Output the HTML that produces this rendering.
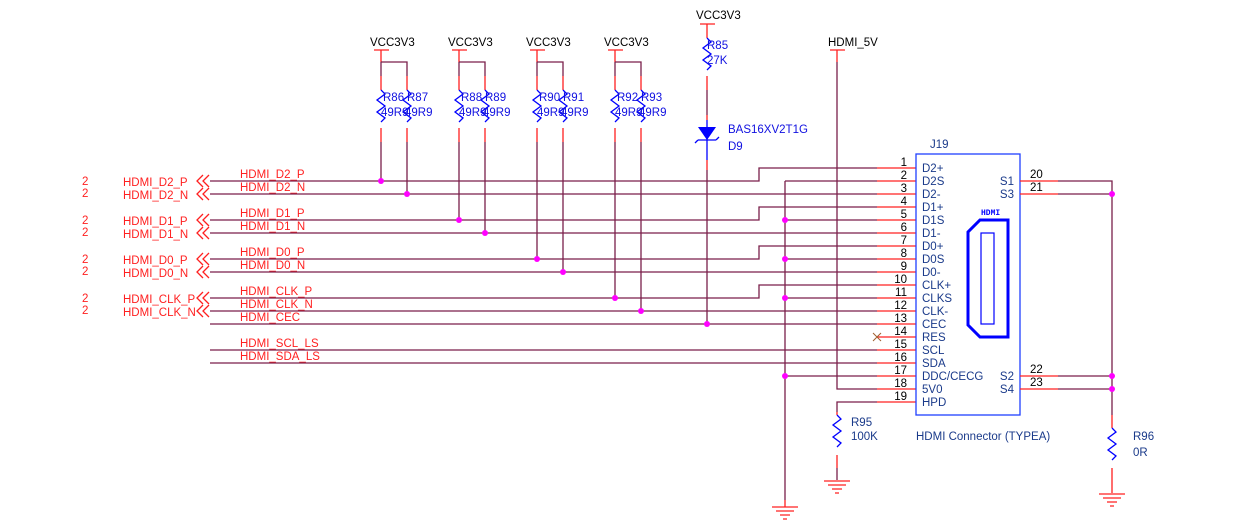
<!DOCTYPE html>
<html><head><meta charset="utf-8"><style>
html,body{margin:0;padding:0;background:#fff;}
svg{display:block;}
text{font-family:"Liberation Sans",sans-serif;font-size:11.5px;}
.w{stroke:#7a1f4a;stroke-width:1.3;fill:none;}
.r{stroke:#ff2020;stroke-width:1.3;fill:none;}
.b{stroke:#0000ff;stroke-width:1.3;fill:none;}
.rt{fill:#ff2020;}
.bt{fill:#1a3a8a;}
.kt{fill:#000;}
.bl{fill:#1010e0;}
.dot{fill:#ff00ff;}
</style></head><body>
<svg width="1236" height="531" viewBox="0 0 1236 531" xmlns="http://www.w3.org/2000/svg">
<defs>
<g id="res"><path class="r" d="M0,0 V14"/><path class="b" d="M0,14 l4,4 l-8,6 l8,6 l-8,6 l8,6 l-4,4 l0,0"/><path class="r" d="M0,52 V66"/></g>
<g id="gnd"><path class="r" d="M-13,0 H13 M-9,4 H9 M-5,8 H5 M-2,12 H2"/></g>
<g id="chev"><path class="r" d="M6,-6 L0,0 L6,6 M12,-6 L6,0 L12,6" transform="translate(-1,0)"/></g>
</defs>

<g>
<text x="370" y="46" class="kt">VCC3V3</text>
<text x="448" y="46" class="kt">VCC3V3</text>
<text x="526" y="46" class="kt">VCC3V3</text>
<text x="604" y="46" class="kt">VCC3V3</text>
</g>
<g>
<path class="r" d="M374,50 H389 M381,50 V62"/>
<path class="w" d="M381,62 H407 V76 M381,62 V76"/>
<use href="#res" x="381" y="76"/><use href="#res" x="407" y="76"/>
<path class="w" d="M381,142 V181 M407,142 V194"/>
<text x="383" y="101" class="bl">R86</text><text x="407" y="101" class="bl">R87</text>
<text x="381" y="116" class="bl">49R9</text><text x="405" y="116" class="bl">49R9</text>

<path class="r" d="M452,50 H467 M459,50 V62"/>
<path class="w" d="M459,62 H485 V76 M459,62 V76"/>
<use href="#res" x="459" y="76"/><use href="#res" x="485" y="76"/>
<path class="w" d="M459,142 V220 M485,142 V233"/>
<text x="461" y="101" class="bl">R88</text><text x="485" y="101" class="bl">R89</text>
<text x="459" y="116" class="bl">49R9</text><text x="483" y="116" class="bl">49R9</text>

<path class="r" d="M530,50 H545 M537,50 V62"/>
<path class="w" d="M537,62 H563 V76 M537,62 V76"/>
<use href="#res" x="537" y="76"/><use href="#res" x="563" y="76"/>
<path class="w" d="M537,142 V259 M563,142 V272"/>
<text x="539" y="101" class="bl">R90</text><text x="563" y="101" class="bl">R91</text>
<text x="537" y="116" class="bl">49R9</text><text x="561" y="116" class="bl">49R9</text>

<path class="r" d="M608,50 H623 M615,50 V62"/>
<path class="w" d="M615,62 H641 V76 M615,62 V76"/>
<use href="#res" x="615" y="76"/><use href="#res" x="641" y="76"/>
<path class="w" d="M615,142 V298 M641,142 V311"/>
<text x="617" y="101" class="bl">R92</text><text x="641" y="101" class="bl">R93</text>
<text x="615" y="116" class="bl">49R9</text><text x="639" y="116" class="bl">49R9</text>
</g>

<text x="696" y="19" class="kt">VCC3V3</text>
<path class="r" d="M700,24 H715 M707,24 V38"/>
<path class="b" d="M707,38 l4,4 l-8,6 l8,6 l-8,6 l8,6 l-4,4"/>
<path class="r" d="M707,76 V90"/>
<path class="w" d="M707,90 V115"/>
<path class="r" d="M707,115 V120"/>
<path class="b" d="M707,120 V160 M698,140 H716 M698,140 l-3,3 M716,140 l3,-3"/>
<polygon points="698,127 716,127 707,140" fill="#0000ff"/>
<path class="r" d="M707,160 V170"/>
<path class="w" d="M707,170 V324"/>
<text x="707" y="49" class="bl">R85</text>
<text x="707" y="64" class="bl">27K</text>
<text x="728" y="133" class="bl">BAS16XV2T1G</text>
<text x="728" y="150" class="bl">D9</text>

<text x="828" y="46" class="kt">HDMI_5V</text>
<path class="r" d="M830,50 H845 M837,50 V62"/>
<path class="w" d="M837,62 V389 H877"/>

<g class="rt">
<text x="82" y="185">2</text><text x="123" y="186">HDMI_D2_P</text>
<text x="82" y="197">2</text><text x="123" y="199">HDMI_D2_N</text>
<text x="82" y="224">2</text><text x="123" y="225">HDMI_D1_P</text>
<text x="82" y="236">2</text><text x="123" y="238">HDMI_D1_N</text>
<text x="82" y="263">2</text><text x="123" y="264">HDMI_D0_P</text>
<text x="82" y="275">2</text><text x="123" y="277">HDMI_D0_N</text>
<text x="82" y="302">2</text><text x="123" y="303">HDMI_CLK_P</text>
<text x="82" y="314">2</text><text x="123" y="316">HDMI_CLK_N</text>
<text x="240" y="178">HDMI_D2_P</text><text x="240" y="191">HDMI_D2_N</text>
<text x="240" y="217">HDMI_D1_P</text><text x="240" y="230">HDMI_D1_N</text>
<text x="240" y="256">HDMI_D0_P</text><text x="240" y="269">HDMI_D0_N</text>
<text x="240" y="295">HDMI_CLK_P</text><text x="240" y="308">HDMI_CLK_N</text>
<text x="240" y="321">HDMI_CEC</text>
<text x="240" y="347">HDMI_SCL_LS</text><text x="240" y="360">HDMI_SDA_LS</text>
</g>
<use href="#chev" x="198" y="181"/><use href="#chev" x="198" y="194"/>
<use href="#chev" x="198" y="220"/><use href="#chev" x="198" y="233"/>
<use href="#chev" x="198" y="259"/><use href="#chev" x="198" y="272"/>
<use href="#chev" x="198" y="298"/><use href="#chev" x="198" y="311"/>

<path class="w" d="M210,181 H759 V168 H877"/>
<path class="w" d="M210,194 H877"/>
<path class="w" d="M210,220 H759 V207 H877"/>
<path class="w" d="M210,233 H877"/>
<path class="w" d="M210,259 H759 V246 H877"/>
<path class="w" d="M210,272 H877"/>
<path class="w" d="M210,298 H759 V285 H877"/>
<path class="w" d="M210,311 H877"/>
<path class="w" d="M210,324 H877"/>
<path class="w" d="M210,350 H877"/>
<path class="w" d="M210,363 H877"/>
<path class="w" d="M785,181 H877 M785,181 V500 M785,220 H877 M785,259 H877 M785,298 H877 M785,376 H877"/>
<path class="r" d="M785,500 V507"/>
<use href="#gnd" x="785" y="507"/>

<path class="r" d="M877,168 H916 M877,181 H916 M877,194 H916 M877,207 H916 M877,220 H916 M877,233 H916 M877,246 H916 M877,259 H916 M877,272 H916 M877,285 H916 M877,298 H916 M877,311 H916 M877,324 H916 M877,337 H916 M877,350 H916 M877,363 H916 M877,376 H916 M877,389 H916 M877,402 H916"/>
<path d="M873,333 L881,341 M881,333 L873,341" stroke="#a06030" stroke-width="1"/>

<path class="w" d="M877,402 H837 V412"/>
<path class="r" d="M837,412 V415"/>
<path class="b" d="M837,415 l4,4 l-8,6 l8,6 l-8,6 l8,6 l-4,4"/>
<path class="r" d="M837,455 V468"/>
<path class="w" d="M837,468 V480"/>
<use href="#gnd" x="837" y="481"/>
<text x="851" y="426" class="bt">R95</text>
<text x="851" y="440" class="bt">100K</text>

<rect x="916" y="154" width="104" height="261" fill="none" stroke="#2040ff" stroke-width="1.3"/>
<text x="930" y="148" class="bt">J19</text>
<g class="kt" text-anchor="end">
<text x="907" y="166">1</text><text x="907" y="179">2</text><text x="907" y="192">3</text>
<text x="907" y="205">4</text><text x="907" y="218">5</text><text x="907" y="231">6</text>
<text x="907" y="244">7</text><text x="907" y="257">8</text><text x="907" y="270">9</text>
<text x="907" y="283">10</text><text x="907" y="296">11</text><text x="907" y="309">12</text>
<text x="907" y="322">13</text><text x="907" y="335">14</text><text x="907" y="348">15</text>
<text x="907" y="361">16</text><text x="907" y="374">17</text><text x="907" y="387">18</text>
<text x="907" y="400">19</text>
</g>
<g class="bt">
<text x="922" y="172">D2+</text><text x="922" y="185">D2S</text><text x="922" y="198">D2-</text>
<text x="922" y="211">D1+</text><text x="922" y="224">D1S</text><text x="922" y="237">D1-</text>
<text x="922" y="250">D0+</text><text x="922" y="263">D0S</text><text x="922" y="276">D0-</text>
<text x="922" y="289">CLK+</text><text x="922" y="302">CLKS</text><text x="922" y="315">CLK-</text>
<text x="922" y="328">CEC</text><text x="922" y="341">RES</text><text x="922" y="354">SCL</text>
<text x="922" y="367">SDA</text><text x="922" y="380">DDC/CECG</text><text x="922" y="393">5V0</text>
<text x="922" y="406">HPD</text>
<text x="1014" y="185" text-anchor="end">S1</text><text x="1014" y="198" text-anchor="end">S3</text>
<text x="1014" y="380" text-anchor="end">S2</text><text x="1014" y="393" text-anchor="end">S4</text>
<text x="916" y="440">HDMI Connector (TYPEA)</text>
</g>
<g class="kt">
<text x="1030" y="178">20</text><text x="1030" y="191">21</text>
<text x="1030" y="373">22</text><text x="1030" y="386">23</text>
</g>
<polygon points="1008,220 980,220 968,232 968,325 980,337 1008,337" fill="none" stroke="#0000ff" stroke-width="3"/>
<rect x="981" y="233" width="13" height="91" fill="none" stroke="#0000ff" stroke-width="1.2"/>
<text x="981" y="215" style="font-size:8px;font-weight:bold;font-family:'Liberation Mono',monospace" fill="#0000ff">HDMI</text>

<path class="r" d="M1020,181 H1058 M1020,194 H1058 M1020,376 H1058 M1020,389 H1058"/>
<path class="w" d="M1058,181 H1112 V415 M1058,194 H1112 M1058,376 H1112 M1058,389 H1112"/>
<path class="r" d="M1112,415 V428"/>
<path class="b" d="M1112,428 l4,4 l-8,6 l8,6 l-8,6 l8,6 l-4,4"/>
<path class="r" d="M1112,468 V493"/>
<use href="#gnd" x="1112" y="494"/>
<text x="1133" y="440" class="bt">R96</text>
<text x="1133" y="456" class="bt">0R</text>

<g class="dot">
<circle cx="381" cy="181" r="3"/><circle cx="407" cy="194" r="3"/>
<circle cx="459" cy="220" r="3"/><circle cx="485" cy="233" r="3"/>
<circle cx="537" cy="259" r="3"/><circle cx="563" cy="272" r="3"/>
<circle cx="615" cy="298" r="3"/><circle cx="641" cy="311" r="3"/>
<circle cx="707" cy="324" r="3"/>
<circle cx="785" cy="220" r="3"/><circle cx="785" cy="259" r="3"/>
<circle cx="785" cy="298" r="3"/><circle cx="785" cy="376" r="3"/>
<circle cx="1112" cy="194" r="3"/><circle cx="1112" cy="376" r="3"/><circle cx="1112" cy="389" r="3"/>
</g>
</svg>
</body></html>
